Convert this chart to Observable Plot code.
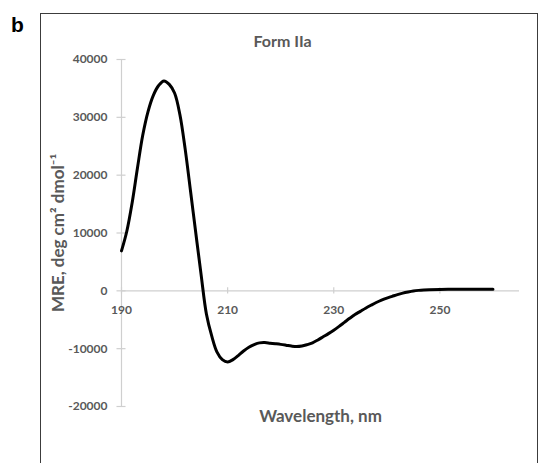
<!DOCTYPE html>
<html><head><meta charset="utf-8">
<script src="https://cdn.jsdelivr.net/npm/d3@7"></script>
<script src="https://cdn.jsdelivr.net/npm/@observablehq/plot@0.6"></script>
<style>
body{margin:0;background:#fff;}
#wrap{position:relative;width:540px;height:463px;overflow:hidden;}
#box{position:absolute;left:40px;top:13px;width:496px;height:470px;border:1.5px solid #3c3c3c;}
#panel{position:absolute;left:11px;top:14px;font:bold 21px "Liberation Sans",Arial,sans-serif;color:#000;line-height:1;}
#chart{position:absolute;left:0;top:0;}
</style></head><body>
<div id="wrap"><div id="box"></div><div id="panel">b</div><div id="chart"></div></div>
<script>
const wavelength = [190,191,192,193,194,195,196,197,198,199,200,201,202,203,204,205,206,207,208,209,210,211,212,213,214,215,216,217,218,219,220,221,222,223,224,225,226,227,228,229,230,231,232,233,234,235,236,237,238,239,240,241,242,243,244,245,246,247,248,250,252,255,258,260];
const mre = [6900,10300,15200,21200,26900,31000,33800,35500,36300,35700,34200,30500,24500,17300,10000,2800,-4000,-7800,-10600,-11900,-12300,-11900,-11200,-10400,-9750,-9300,-9000,-8950,-9050,-9150,-9260,-9400,-9550,-9640,-9550,-9300,-8980,-8500,-7950,-7400,-6800,-6150,-5450,-4750,-4100,-3550,-3000,-2500,-2020,-1600,-1250,-950,-650,-400,-200,-30,80,150,200,250,260,260,260,260];
const xTicks = [190,210,230,250];
const yTicks = [-20000,-10000,0,10000,20000,30000,40000];
const title = "Form IIa";
const xLabel = "Wavelength, nm";
const yLabel = "MRE, deg cm² dmol⁻¹";

const data = wavelength.map((w,i)=>({w, v: mre[i]}));
const gray = "#595959", axisGray = "#cfcfcf";
const font = "Lato, 'Open Sans', sans-serif";
const plot = Plot.plot({
  width:540, height:463, marginLeft:121, marginRight:21, marginTop:59, marginBottom:57,
  style:{fontFamily:font, background:"transparent", overflow:"visible"},
  x:{domain:[190,265], axis:null},
  y:{domain:[-20000,40000], axis:null},
  marks:[
    Plot.ruleX([190],{y1:-20000,y2:40000,stroke:axisGray,strokeWidth:1.2}),
    Plot.ruleY(yTicks,{x1:189.15,x2:190.85,stroke:axisGray,strokeWidth:1.2}),
    Plot.ruleY([0],{x1:190,x2:265,stroke:axisGray,strokeWidth:1.2}),
    Plot.ruleX(xTicks,{y1:-550,y2:550,stroke:axisGray,strokeWidth:1.2}),
    Plot.text(yTicks,{x:190,y:d=>d,text:d=>String(d),textAnchor:"end",dx:-14,fill:gray,fontWeight:"bold",fontSize:12}),
    Plot.text(xTicks,{x:d=>d,y:0,text:d=>String(d),dy:19,fill:gray,fontWeight:"bold",fontSize:12}),
    Plot.line(data,{x:"w",y:"v",stroke:"#000",strokeWidth:3,curve:"catmull-rom"}),
    Plot.text([title],{frameAnchor:"top",textAnchor:"middle",dx:-38,dy:-24,fill:gray,fontWeight:"bold",fontSize:16}),
    Plot.text([xLabel],{frameAnchor:"bottom",textAnchor:"middle",dy:15,fill:gray,fontWeight:"bold",fontSize:17}),
    Plot.text([yLabel],{frameAnchor:"left",textAnchor:"middle",dx:-63,rotate:-90,fill:gray,fontWeight:"bold",fontSize:17})
  ]
});
document.getElementById("chart").appendChild(plot);
</script>
</body></html>
